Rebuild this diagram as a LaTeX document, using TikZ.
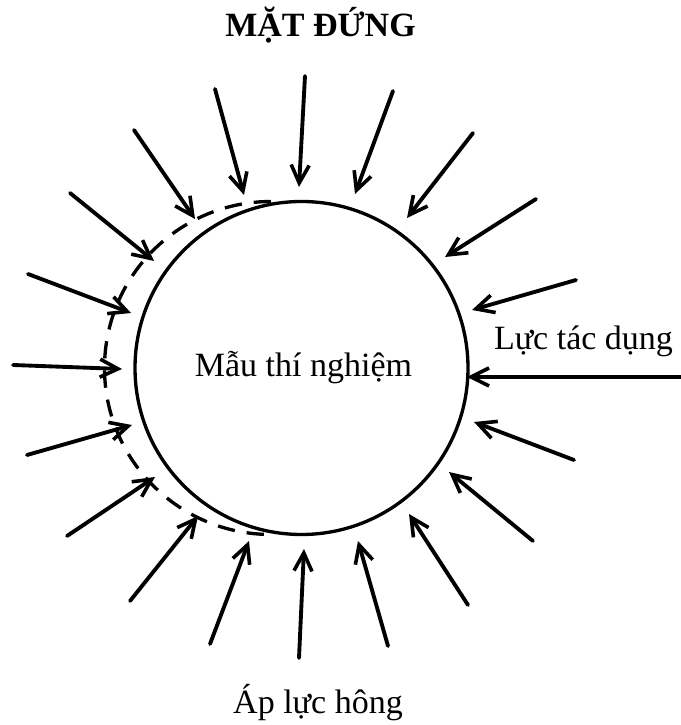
\documentclass[tikz,border=0pt]{standalone}
\usepackage{fontspec}
\setmainfont{Liberation Serif}
\usetikzlibrary{arrows.meta}
\begin{document}
\begin{tikzpicture}[x=0.75pt,y=0.75pt,
  force/.style={line width=2.9pt, line cap=round, -{Straight Barb[length=13.5pt,width=13.5pt,line width=2.7pt]}},
  outline/.style={draw, circle, line width=2.5pt, inner sep=0pt, minimum size=249.75pt},
  swollen/.style={line width=2.5pt, dash pattern=on 13pt off 9pt},
  lbl/.style={inner sep=0pt, anchor=base, font=\fontsize{25.5}{30}\selectfont},
  ttl/.style={lbl, font=\fontsize{25.5}{30}\selectfont\bfseries}]
\useasboundingbox (0,0) rectangle (681,725);
% specimen
\node[outline] (sample) at (301.5,357) {};
\draw[swollen] (271,523.5) arc[start angle=90, end angle=270, radius=166.5];
% texts
\node[ttl] (title) at (320.5,688) {MẶT ĐỨNG};
\node[lbl] (inner) at (303.5,348) {Mẫu thí nghiệm};
\node[lbl] (force) at (583.5,375) {Lực tác dụng};
\node[lbl] (lateral) at (318,12) {Áp lực hông};
% arrows: start and tip coordinates
\foreach \i/\sx/\sy/\tx/\ty in {
  1/305/649/299/538,
  2/393/634/355/531,
  3/473/592/407/507,
  4/536/526/445/468,
  5/576/445/472/415,
  6/681/348/467/348,
  7/574/265/474/303,
  8/533/184/449/253,
  9/468/120/409/211,
  10/388/79/358/184,
  11/299/67/304/176,
  12/210/81/249/184,
  13/130/124/198/209,
  14/67/189/155/248,
  15/27/270/132/300,
  16/13/360/122/356,
  17/28/451/131/412,
  18/70/532/154/464,
  19/134/595/195/506,
  20/215/636/244/530}{
  \coordinate (s\i) at (\sx,\sy);
  \coordinate (t\i) at (\tx,\ty);
  \draw[force] (s\i) -- (t\i);
}
\end{tikzpicture}
\end{document}
